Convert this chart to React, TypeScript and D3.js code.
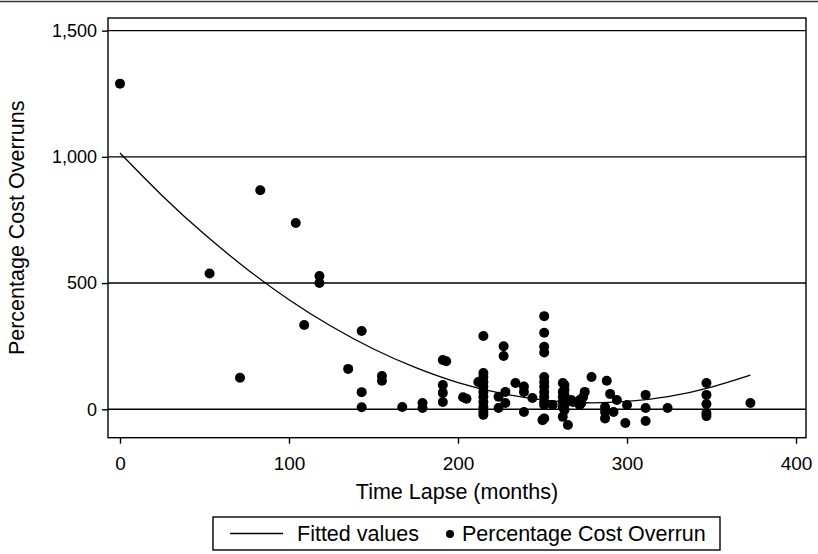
import React, { useEffect, useRef } from 'react';
import * as d3 from 'd3';

// scatter: [time lapse (months), percentage cost overrun]
const overrunPoints: [number, number][] = [
  [0, 1290], [53, 538], [71, 125], [83, 868], [104, 738], [109, 334],
  [118, 528], [118, 500], [135, 160], [143, 310], [143, 68], [143, 8],
  [155, 132], [155, 113], [167, 9], [179, 25], [179, 5],
  [191, 195], [193, 190], [191, 96], [191, 65], [191, 29],
  [203, 48], [205, 42],
  [215, 290], [215, 144], [215, 128], [212, 108], [215, 108], [215, 90], [215, 69],
  [215, 50], [215, 29], [215, 9], [215, -11], [215, -22],
  [227, 250], [227, 211], [224, 50], [228, 69], [228, 25], [224, 5],
  [234, 104], [239, 90], [239, 69], [239, -11], [244, 45],
  [250, -43], [251, -36],
  [251, 369], [251, 303], [251, 248], [251, 225], [251, 128], [251, 108], [251, 90],
  [251, 69], [251, 50], [251, 29], [251, 17], [256, 17],
  [262, 104], [263, 96], [263, 77], [262, 69], [263, 57], [262, 50], [263, 37],
  [262, 29], [263, 17], [262, 9], [263, -3], [262, -30], [265, -62],
  [267, 37], [268, 29], [272, 17], [272, 37], [275, 69], [274, 49], [273, 25],
  [279, 128], [288, 113], [290, 61], [287, 9], [287, -11], [287, -36],
  [292, -11], [294, 37], [300, 17], [299, -54],
  [311, 57], [311, 5], [311, -46], [324, 5],
  [347, 104], [347, 57], [347, 21], [347, -15], [347, -27],
  [373, 25],
];

// fitted values: [months, value]
const fittedPoints: [number, number][] = [
  [0, 1015], [25, 846], [50, 693], [75, 556], [100, 434], [125, 329],
  [150, 239], [175, 165], [200, 106], [225, 64], [250, 37], [275, 26],
  [300, 31], [325, 51], [350, 88], [373, 135],
];

const xTicks = [0, 100, 200, 300, 400];
const yTicks = [0, 500, 1000, 1500];

const W = 818;
const H = 554;

export default function App() {
  const svgRef = useRef<SVGSVGElement>(null);

  useEffect(() => {
    const svg = d3.select(svgRef.current);
    svg.selectAll('*').remove();

    const left = 108, right = 806, top = 18, bottom = 437.7;
    const font = '"Liberation Sans", Arial, sans-serif';
    const labelSize = 21.5;

    const x = d3.scaleLinear().domain([-7.1, 405.9]).range([left, right]);
    const y = d3.scaleLinear().domain([-112.5, 1550]).range([bottom, top]);

    svg.append('rect').attr('width', W).attr('height', H).attr('fill', 'white');

    // the original image is cropped just short of the last x label
    svg.append('defs').append('clipPath').attr('id', 'crop')
      .append('rect').attr('x', 0).attr('y', 0).attr('width', 812).attr('height', H);

    // thin rule across the top of the figure
    svg.append('line')
      .attr('x1', 0).attr('x2', W).attr('y1', 1.5).attr('y2', 1.5)
      .attr('stroke', '#333').attr('stroke-width', 1.5);

    // grid lines
    svg.selectAll('.grid')
      .data(yTicks)
      .enter().append('line')
      .attr('x1', left).attr('x2', right)
      .attr('y1', d => y(d)).attr('y2', d => y(d))
      .attr('stroke', '#000').attr('stroke-width', 1.4);

    // y axis
    const yAxis = d3.axisLeft(y)
      .tickValues(yTicks)
      .tickSize(6)
      .tickPadding(5)
      .tickFormat(d3.format(','));
    const gy = svg.append('g').attr('transform', `translate(${left},0)`).call(yAxis);
    gy.select('.domain').remove();
    gy.selectAll('.tick line').attr('stroke', '#000').attr('stroke-width', 1.4);
    gy.selectAll('.tick text')
      .attr('font-family', font).attr('font-size', 18).attr('fill', '#000');

    // x axis
    const xAxis = d3.axisBottom(x).tickValues(xTicks).tickSize(6).tickPadding(13);
    const gxWrap = svg.append('g').attr('clip-path', 'url(#crop)');
    const gx = gxWrap.append('g').attr('transform', `translate(0,${bottom})`).call(xAxis);
    gx.select('.domain').remove();
    gx.selectAll('.tick line').attr('stroke', '#000').attr('stroke-width', 1.4);
    gx.selectAll('.tick text')
      .attr('font-family', font).attr('font-size', 19).attr('fill', '#000');

    // fitted curve
    const line = d3.line<[number, number]>()
      .x(d => x(d[0]))
      .y(d => y(d[1]))
      .curve(d3.curveNatural);
    svg.append('path')
      .datum(fittedPoints)
      .attr('fill', 'none')
      .attr('stroke', '#000')
      .attr('stroke-width', 1.3)
      .attr('d', line);

    // scatter
    svg.selectAll('.dot')
      .data(overrunPoints)
      .enter().append('circle')
      .attr('cx', d => x(d[0]))
      .attr('cy', d => y(d[1]))
      .attr('r', 5)
      .attr('fill', '#000');

    // plot frame
    svg.append('rect')
      .attr('x', left).attr('y', top)
      .attr('width', right - left).attr('height', bottom - top)
      .attr('fill', 'none').attr('stroke', '#000').attr('stroke-width', 1.4);

    // axis titles
    svg.append('text')
      .attr('x', (left + right) / 2).attr('y', 499)
      .attr('text-anchor', 'middle')
      .attr('font-family', font).attr('font-size', labelSize)
      .text('Time Lapse (months)');

    svg.append('text')
      .attr('transform', `translate(24,${(top + bottom) / 2}) rotate(-90)`)
      .attr('text-anchor', 'middle')
      .attr('font-family', font).attr('font-size', labelSize)
      .text('Percentage Cost Overruns');

    // legend
    const lg = svg.append('g');
    lg.append('rect')
      .attr('x', 213).attr('y', 517).attr('width', 507).attr('height', 33)
      .attr('fill', 'white').attr('stroke', '#000').attr('stroke-width', 1.4);
    lg.append('line')
      .attr('x1', 230).attr('x2', 283).attr('y1', 533.5).attr('y2', 533.5)
      .attr('stroke', '#000').attr('stroke-width', 1.3);
    lg.append('text')
      .attr('x', 297).attr('y', 541)
      .attr('font-family', font).attr('font-size', labelSize)
      .text('Fitted values');
    lg.append('circle').attr('cx', 450).attr('cy', 534).attr('r', 4).attr('fill', '#000');
    lg.append('text')
      .attr('x', 462).attr('y', 541)
      .attr('font-family', font).attr('font-size', labelSize)
      .text('Percentage Cost Overrun');
  }, []);

  return (
    <div style={{ position: 'absolute', left: 0, top: 0 }}>
      <svg ref={svgRef} width={W} height={H}></svg>
    </div>
  );
}
